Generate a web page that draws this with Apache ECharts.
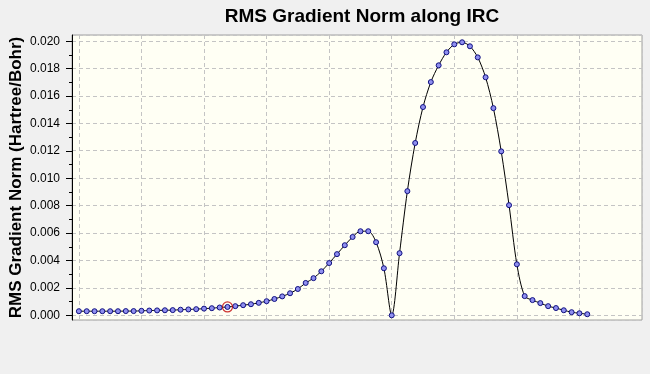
<!DOCTYPE html>
<html>
<head>
<meta charset="utf-8">
<script src="https://cdn.jsdelivr.net/npm/echarts@6/dist/echarts.min.js"></script>
<style>
  html, body { margin: 0; padding: 0; background: #F0F0F0; }
  #chart { width: 650px; height: 374px; }
</style>
</head>
<body>
<div id="chart"></div>
<script>
// IRC point coordinates (one per computed point)
const ircCoord = [
  0, 0.25, 0.5, 0.75, 1, 1.25, 1.5, 1.75, 2, 2.25,
  2.5, 2.75, 3, 3.25, 3.5, 3.75, 4, 4.25, 4.5, 4.75,
  5, 5.25, 5.5, 5.75, 6, 6.25, 6.5, 6.75, 7, 7.25,
  7.5, 7.75, 8, 8.25, 8.5, 8.75, 9, 9.25, 9.5, 9.75,
  10, 10.25, 10.5, 10.75, 11, 11.25, 11.5, 11.75, 12, 12.25,
  12.5, 12.75, 13, 13.25, 13.5, 13.75, 14, 14.25, 14.5, 14.75,
  15, 15.25, 15.5, 15.75, 16, 16.25
];
// RMS gradient norm (Hartree/Bohr)
const rmsGrad = [
  0.00030, 0.00030, 0.00030, 0.00030, 0.00030, 0.00030, 0.00031, 0.00031, 0.00033, 0.00035,
  0.00036, 0.00037, 0.00038, 0.00041, 0.00043, 0.00045, 0.00049, 0.00052, 0.00057, 0.00061,
  0.00067, 0.00074, 0.00081, 0.00091, 0.00103, 0.00119, 0.00138, 0.00161, 0.00192, 0.00236,
  0.00271, 0.00321, 0.00381, 0.00446, 0.00511, 0.00571, 0.00613, 0.00613, 0.00533, 0.00343,
  0.00000, 0.00453, 0.00905, 0.01256, 0.01518, 0.01700, 0.01822, 0.01917, 0.01975, 0.01990,
  0.01961, 0.01880, 0.01735, 0.01510, 0.01195, 0.00803, 0.00372, 0.00140, 0.00111, 0.00089,
  0.00067, 0.00053, 0.00037, 0.00023, 0.00015, 0.00008
];
// highlighted (current) point
const highlightIndex = 19;

const titleText = 'RMS Gradient Norm along IRC';
const yName = 'RMS Gradient Norm (Hartree/Bohr)';

const font = 'Arial, "Liberation Sans", sans-serif';
const chart = echarts.init(document.getElementById('chart'));

chart.setOption({
  animation: false,
  backgroundColor: '#F0F0F0',
  title: {
    text: titleText,
    left: 362,
    textAlign: 'center',
    top: 7,
    padding: 0,
    textStyle: { fontFamily: font, fontSize: 19, fontWeight: 'bold', color: '#000' }
  },
  grid: [
    { left: 72, right: 8, top: 35, bottom: 54, show: true,
      backgroundColor: '#FFFFF4', borderColor: '#A0A0A0', borderWidth: 1 },
    { left: 72, right: 8, top: 41.3, bottom: 58.7 }
  ],
  xAxis: [
    { type: 'value', gridIndex: 0, min: -0.22, max: 18, splitNumber: 9,
      axisLine: { show: false }, axisTick: { show: false }, axisLabel: { show: false },
      splitLine: { show: true, lineStyle: { color: '#C4C4C4', type: [4, 3], width: 1 } } },
    { type: 'value', gridIndex: 1, min: 0, max: 1, show: false }
  ],
  yAxis: [
    { type: 'value', gridIndex: 0, min: -0.00034, max: 0.02043, splitNumber: 10,
      axisLine: { show: true, onZero: false, lineStyle: { color: '#000', width: 1 } },
      axisTick: { show: false }, axisLabel: { show: false },
      splitLine: { show: true, lineStyle: { color: '#C4C4C4', type: [4, 3], width: 1 } },
      name: yName, nameLocation: 'middle', nameGap: 47,
      nameTextStyle: { fontFamily: font, fontSize: 17, fontWeight: 'bold', color: '#000' } },
    { type: 'value', gridIndex: 1, min: 0, max: 0.02, interval: 0.002,
      axisLine: { show: false, onZero: false },
      axisTick: { show: true, inside: false, length: 6, lineStyle: { color: '#000' } },
      minorTick: { show: true, splitNumber: 2, length: 3, lineStyle: { color: '#000' } },
      splitLine: { show: false },
      axisLabel: { margin: 12, fontFamily: font, fontSize: 12, color: '#000',
        formatter: v => v.toFixed(3) } }
  ],
  series: [
    {
      type: 'line', xAxisIndex: 0, yAxisIndex: 0,
      data: ircCoord.map((x, i) => [x, rmsGrad[i]]),
      smooth: 0.3,
      lineStyle: { color: '#000', width: 1 },
      symbol: 'circle', symbolSize: 5, showAllSymbol: true,
      itemStyle: { color: '#8F8FEF', borderColor: '#101080', borderWidth: 1 },
      z: 3
    },
    {
      type: 'scatter', xAxisIndex: 0, yAxisIndex: 0,
      data: [[ircCoord[highlightIndex], rmsGrad[highlightIndex]]],
      symbol: 'circle', symbolSize: 10,
      itemStyle: { color: 'rgba(0,0,0,0)', borderColor: '#C00000', borderWidth: 1.2 },
      z: 4
    }
  ]
});
</script>
</body>
</html>
